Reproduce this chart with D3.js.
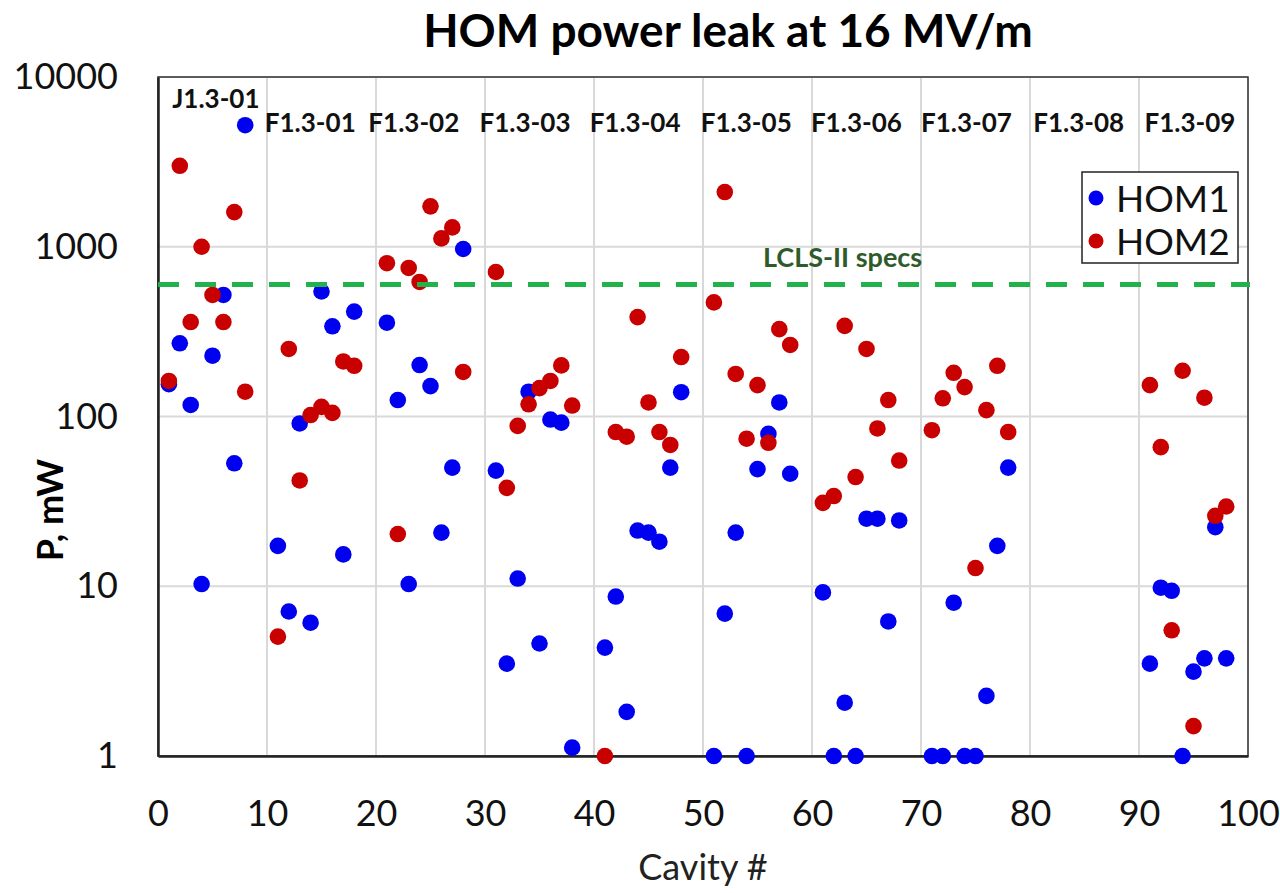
<!DOCTYPE html>
<html>
<head>
<meta charset="utf-8">
<script src="https://cdn.jsdelivr.net/npm/d3@7"></script>
<style>
	body { margin: 0; background: #fff; }
	svg text { font-family: Lato, "Open Sans", sans-serif; }
</style>
</head>
<body>
<svg id="chart" width="1280" height="893"></svg>
<script>

//############
//### data ###
//############
var hom1Cavity = [1,2,3,4,5,6,7,8, 11,12,13,14,15,16,17,18, 21,22,23,24,25,26,27,28, 31,32,33,34,35,36,37,38,
	41,42,43,44,45,46,47,48, 51,52,53,54,55,56,57,58, 61,62,63,64,65,66,67,68, 71,72,73,74,75,76,77,78, 91,92,93,94,95,96,97,98];
var hom1Power = [155,270,117,10.3,228,520,53,5200, 17.3,7.1,91,6.1,545,340,15.4,415, 357,125,10.3,201,151,20.7,50,970,
	48,3.5,11.1,140,4.6,96,92,1.12, 4.35,8.7,1.82,21.3,20.7,18.3,50,139, 1.0,6.9,20.7,1.0,49,79,121,46,
	9.2,1.0,2.06,1.0,25,25,6.2,24.4, 1.0,1.0,8.0,1.0,1.0,2.26,17.3,50, 3.5,9.8,9.4,1.0,3.14,3.76,22.3,3.76];

var hom2Cavity = hom1Cavity.slice();
var hom2Power = [162,3000,360,1000,520,360,1600,140, 5.05,250,42,102,114,105,211,199, 800,20.3,750,620,1730,1120,1300,183,
	710,38,88,118,147,162,200,116, 1.0,81,76,385,121,81,68,224, 470,2100,178,74,153,70,327,264,
	31,34,342,44,250,85,125,55, 83,128,181,149,12.8,109,199,81, 153,66,5.5,186,1.5,129,26,29.5];

var moduleNames = ["J1.3-01","F1.3-01","F1.3-02","F1.3-03","F1.3-04","F1.3-05","F1.3-06","F1.3-07","F1.3-08","F1.3-09"];
var moduleStart = [1.3, 9.8, 19.3, 29.5, 39.6, 49.8, 59.9, 70.0, 80.3, 90.5];

var specLimit = 600;
var xTicks = [0,10,20,30,40,50,60,70,80,90,100];
var yTicks = [1,10,100,1000,10000];

//##############
//### layout ###
//##############
var plotLeft = 158, plotRight = 1248, plotTop = 77, plotBottom = 756;

var svg = d3.select("#chart");

var x = d3.scaleLinear().domain([0, 100]).range([plotLeft, plotRight]);
var y = d3.scaleLog().domain([1, 10000]).range([plotBottom, plotTop]);

// grid
svg.append("g")
	.selectAll("line")
	.data(xTicks)
	.enter().append("line")
		.attr("x1", function(d){ return x(d); })
		.attr("x2", function(d){ return x(d); })
		.attr("y1", plotTop)
		.attr("y2", plotBottom)
		.attr("stroke", "#d9d9d9")
		.attr("stroke-width", 2);

svg.append("g")
	.selectAll("line")
	.data(yTicks)
	.enter().append("line")
		.attr("x1", plotLeft)
		.attr("x2", plotRight)
		.attr("y1", function(d){ return y(d); })
		.attr("y2", function(d){ return y(d); })
		.attr("stroke", "#d9d9d9")
		.attr("stroke-width", 2);

// frame
svg.append("rect")
	.attr("x", plotLeft)
	.attr("y", plotTop)
	.attr("width", plotRight - plotLeft)
	.attr("height", plotBottom - plotTop)
	.attr("fill", "none")
	.attr("stroke", "#333")
	.attr("stroke-width", 1.5);

// axes (labels only, ticks hidden)
var xAxis = svg.append("g")
	.attr("transform", "translate(0," + plotBottom + ")")
	.call(d3.axisBottom(x).tickValues(xTicks).tickSize(0).tickPadding(44).tickFormat(d3.format("d")));
xAxis.select(".domain").attr("stroke", "#222").attr("stroke-width", 2.5);
xAxis.selectAll("text").attr("font-size", 36).attr("fill", "#111");

var yAxis = svg.append("g")
	.attr("transform", "translate(" + plotLeft + ",0)")
	.call(d3.axisLeft(y).tickValues(yTicks).tickSize(0).tickPadding(40).tickFormat(d3.format("d")));
yAxis.select(".domain").attr("stroke", "#222").attr("stroke-width", 2.5);
yAxis.selectAll("text").attr("font-size", 36).attr("fill", "#111");

// titles
svg.append("text")
	.attr("x", 728)
	.attr("y", 47)
	.attr("text-anchor", "middle")
	.attr("font-size", 46)
	.attr("font-weight", "bold")
	.text("HOM power leak at 16 MV/m");

svg.append("text")
	.attr("x", (plotLeft + plotRight) / 2)
	.attr("y", 880)
	.attr("text-anchor", "middle")
	.attr("font-size", 36)
	.attr("fill", "#222")
	.text("Cavity #");

svg.append("text")
	.attr("transform", "translate(63," + 510 + ") rotate(-90)")
	.attr("text-anchor", "middle")
	.attr("font-size", 36)
	.attr("font-weight", "bold")
	.text("P, mW");

// module labels
svg.append("g")
	.selectAll("text")
	.data(moduleNames)
	.enter().append("text")
		.attr("x", function(d, i){ return x(moduleStart[i]); })
		.attr("y", function(d, i){ return i == 0 ? 108 : 132; })
		.attr("font-size", 26)
		.attr("font-weight", "bold")
		.attr("fill", "#111")
		.text(function(d){ return d; });

// points: HOM1 first, HOM2 drawn on top
svg.append("g")
	.selectAll("circle")
	.data(hom1Cavity)
	.enter().append("circle")
		.attr("cx", function(d){ return x(d); })
		.attr("cy", function(d, i){ return y(hom1Power[i]); })
		.attr("r", 8.3)
		.attr("fill", "#0000f0");

svg.append("g")
	.selectAll("circle")
	.data(hom2Cavity)
	.enter().append("circle")
		.attr("cx", function(d){ return x(d); })
		.attr("cy", function(d, i){ return y(hom2Power[i]); })
		.attr("r", 8.3)
		.attr("fill", "#c80000");

// spec line
svg.append("line")
	.attr("x1", plotLeft)
	.attr("x2", plotRight + 2)
	.attr("y1", y(specLimit))
	.attr("y2", y(specLimit))
	.attr("stroke", "#22b24c")
	.attr("stroke-width", 5)
	.attr("stroke-dasharray", "21,16");

svg.append("text")
	.attr("x", 763)
	.attr("y", 267)
	.attr("font-size", 27)
	.attr("font-weight", "bold")
	.attr("fill", "#2e5b2a")
	.text("LCLS-II specs");

// legend
var legend = svg.append("g");
legend.append("rect")
	.attr("x", 1082)
	.attr("y", 172)
	.attr("width", 156)
	.attr("height", 91)
	.attr("fill", "#fff")
	.attr("stroke", "#222")
	.attr("stroke-width", 1.5);

var legendItems = [["HOM1", "#0000f0"], ["HOM2", "#c80000"]];
legendItems.forEach(function(item, i){
	legend.append("circle")
		.attr("cx", 1096)
		.attr("cy", 198 + i * 43)
		.attr("r", 7.5)
		.attr("fill", item[1]);
	legend.append("text")
		.attr("x", 1116)
		.attr("y", 212 + i * 43)
		.attr("font-size", 37)
		.attr("fill", "#111")
		.text(item[0]);
});

</script>
</body>
</html>
